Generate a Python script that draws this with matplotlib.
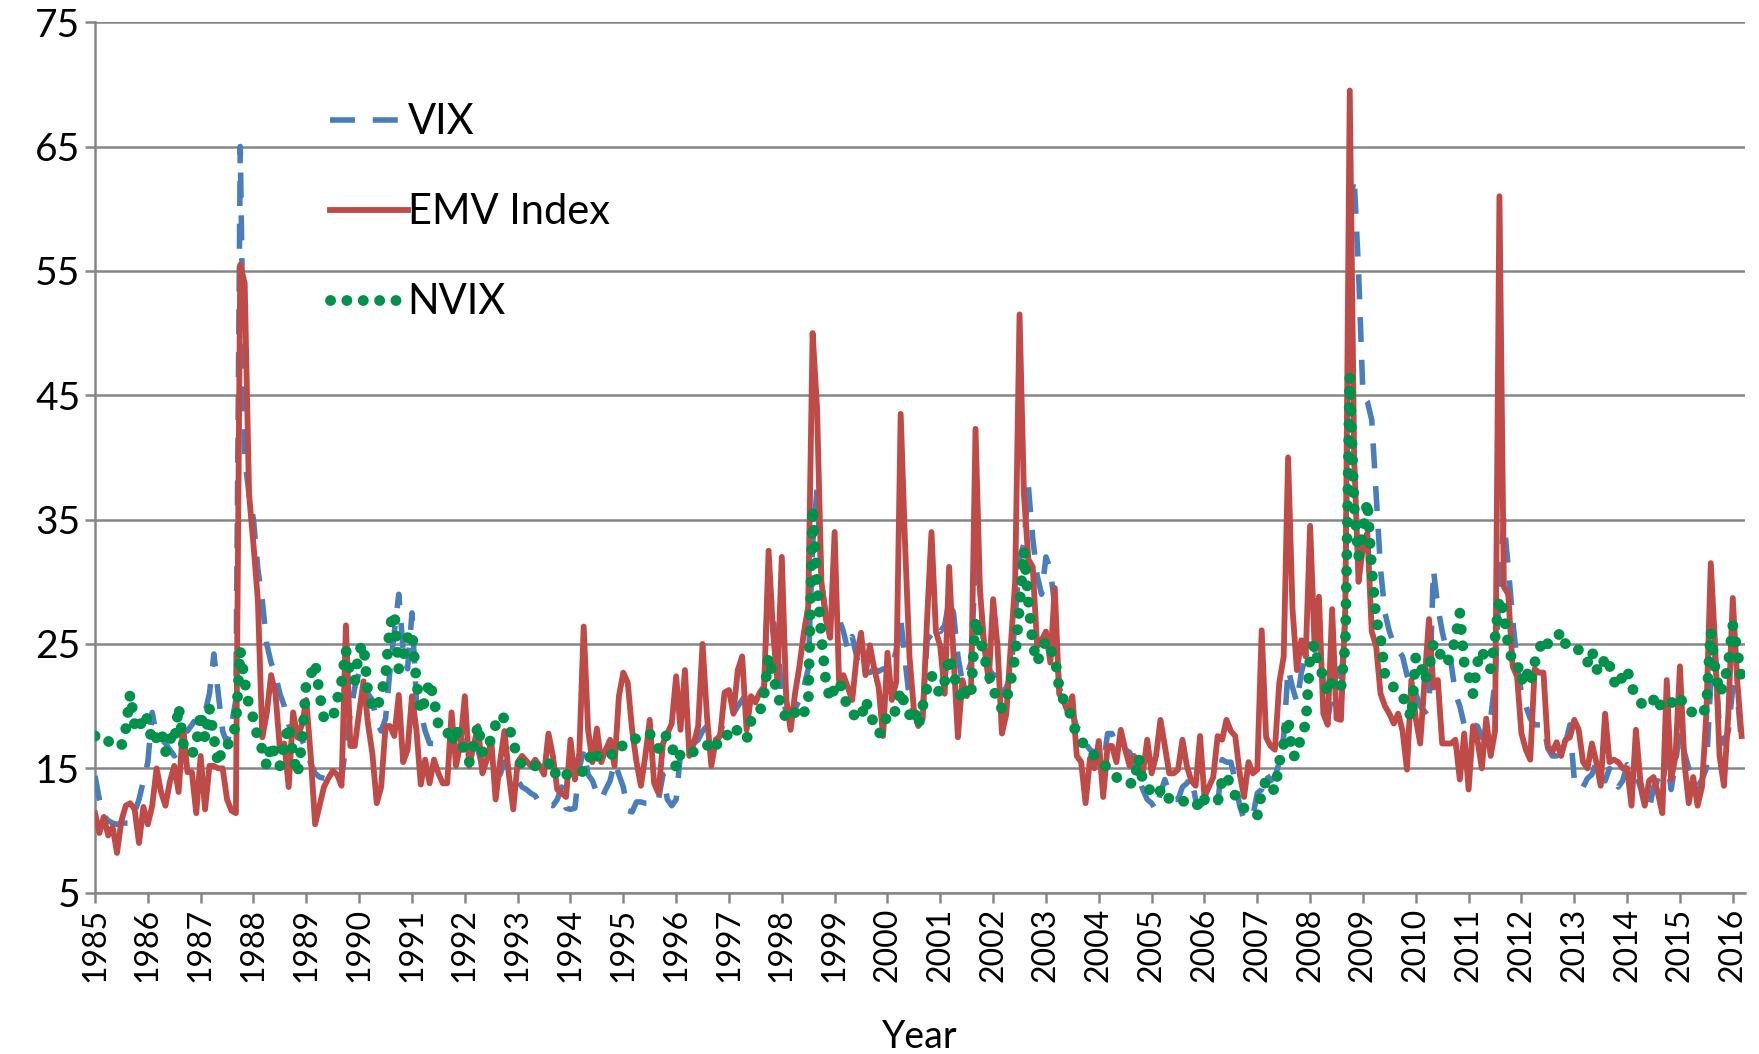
import matplotlib
matplotlib.use("Agg")
import matplotlib.pyplot as plt
import numpy as np

plt.rcParams['font.family'] = ['Lato', 'DejaVu Sans']

# monthly values, Jan 1985 .. Mar 2016 (one row per year)
vix = [
    14.4, 12.5, 11.2, 10.8, 10.6, 10.5, 10.6, 10.6, 10.6, 11.5, 12.5, 14.0,
    15.5, 19.5, 17.5, 17.5, 17.0, 16.5, 16.0, 16.3, 18.0, 18.0, 18.5, 19.0,
    19.5, 19.5, 21.0, 24.2, 21.0, 18.0, 17.0, 18.5, 20.5, 65.0, 40.0, 37.0,
    35.0, 31.0, 28.5, 25.0, 23.5, 22.5, 21.0, 20.0, 18.5, 18.0, 17.5, 17.3,
    16.5, 15.4, 14.6, 14.3, 14.2, 14.1, 14.5, 14.2, 14.1, 17.0, 19.4, 21.5,
    22.7, 22.0, 21.0, 20.5, 18.7, 18.0, 19.0, 22.9, 26.0, 29.0, 24.5, 23.0,
    27.5, 20.5, 19.5, 18.0, 17.0, 17.0, 17.0, 16.8, 17.0, 17.0, 17.5, 17.5,
    17.0, 16.5, 16.0, 16.5, 15.0, 14.8, 14.5, 14.1, 14.5, 15.5, 15.0, 14.0,
    14.0, 13.5, 13.3, 13.0, 12.8, 12.2, 12.0, 12.1, 12.0, 12.5, 13.5, 11.8,
    11.7, 11.8, 15.0, 16.5, 14.5, 14.0, 13.0, 12.5, 13.3, 14.0, 15.5, 14.5,
    13.5, 11.6, 11.5, 12.3, 12.3, 12.2, 12.2, 12.0, 12.5, 14.5, 12.5, 12.0,
    12.5, 16.2, 16.5, 16.3, 17.0, 17.3, 18.0, 18.4, 17.5, 16.8, 17.8, 19.0,
    19.4, 19.4, 20.0, 20.5, 21.0, 21.0, 21.3, 21.5, 21.6, 31.0, 27.0, 25.0,
    21.0, 19.5, 19.4, 19.8, 20.5, 21.5, 23.0, 33.0, 37.5, 30.0, 27.5, 27.0,
    27.0, 27.0, 26.0, 24.5, 25.6, 24.0, 22.5, 22.7, 22.7, 23.0, 22.8, 23.0,
    23.0, 23.0, 24.5, 27.0, 23.7, 20.5, 19.5, 18.5, 19.5, 25.3, 25.8, 26.5,
    26.0, 26.5, 28.5, 27.5, 24.0, 22.0, 22.5, 23.5, 32.0, 29.5, 24.0, 23.0,
    22.5, 22.5, 21.0, 21.5, 22.5, 27.0, 32.0, 33.0, 37.7, 33.5, 30.5, 29.0,
    32.0, 31.0, 28.0, 21.5, 20.5, 20.0, 19.5, 18.3, 18.0, 17.0, 16.5, 16.3,
    15.5, 15.2, 17.8, 17.8, 16.8, 16.5, 16.5, 16.3, 15.3, 14.3, 13.3, 12.5,
    12.2, 11.6, 13.0, 14.1, 13.0, 12.5, 12.5, 13.5, 13.8, 14.3, 12.5, 12.0,
    12.3, 11.6, 11.8, 12.0, 15.7, 15.5, 15.5, 14.0, 12.0, 10.9, 11.0, 11.2,
    13.0, 13.3, 14.6, 14.0, 14.3, 15.5, 17.6, 23.0, 21.5, 20.3, 22.7, 24.0,
    25.0, 24.5, 25.0, 22.0, 19.0, 21.0, 23.0, 21.5, 27.0, 60.0, 62.5, 55.0,
    45.0, 44.5, 43.0, 37.0, 31.0, 27.5, 26.0, 25.0, 24.5, 24.0, 22.5, 21.5,
    21.0, 20.0, 19.5, 19.8, 31.0, 28.0, 26.0, 24.5, 23.5, 21.0, 20.0, 18.5,
    19.0, 18.5, 18.4, 17.5, 17.5, 19.0, 22.0, 30.0, 35.0, 31.2, 27.0, 23.5,
    21.0, 20.0, 19.0, 18.5, 18.5, 18.5, 16.6, 16.0, 16.0, 16.5, 17.0, 18.5,
    14.1, 13.3, 13.5, 14.2, 14.5, 15.5, 14.0, 14.0, 15.0, 14.5, 13.5, 14.0,
    15.3, 15.0, 14.5, 13.5, 12.0, 11.6, 13.5, 14.0, 13.5, 16.0, 13.3, 15.5,
    18.0, 16.3, 15.0, 14.0, 13.5, 14.1, 15.0, 22.0, 24.0, 18.0, 17.0, 18.0,
    21.5, 21.0, 17.0,
]

emv = [
    11.4, 9.8, 11.1, 9.6, 10.3, 8.2, 10.8, 12.0, 12.2, 11.7, 9.0, 11.9,
    10.5, 12.0, 15.0, 13.1, 12.0, 13.9, 15.2, 13.1, 18.4, 14.7, 14.7, 11.4,
    16.0, 11.7, 15.2, 15.2, 15.0, 15.0, 12.5, 11.6, 11.4, 55.5, 54.0, 37.0,
    33.0, 28.5, 17.5, 19.4, 22.5, 21.0, 16.5, 17.0, 13.5, 19.5, 17.5, 18.5,
    20.5, 16.0, 10.5, 12.0, 13.5, 14.2, 14.8, 14.5, 13.6, 26.5, 16.8, 16.8,
    19.5, 22.0, 18.6, 16.2, 12.2, 13.5, 18.4, 18.4, 17.6, 20.9, 15.5, 16.5,
    20.8, 18.1, 13.7, 15.7, 13.8, 15.7, 14.6, 13.8, 13.8, 19.5, 15.2, 17.0,
    20.8, 15.2, 16.8, 18.4, 14.6, 15.7, 17.3, 12.5, 15.5, 18.0, 14.5, 11.7,
    15.5, 16.0, 15.6, 15.2, 15.7, 15.2, 14.5, 17.8, 16.0, 13.3, 13.0, 12.7,
    17.3, 14.1, 16.2, 26.4, 18.1, 15.5, 18.2, 15.5, 16.5, 17.3, 15.2, 20.8,
    22.7, 21.9, 18.1, 15.5, 13.6, 16.0, 18.9, 13.8, 13.0, 17.0, 17.8, 18.6,
    22.4, 18.1, 22.9, 16.0, 17.0, 18.4, 25.0, 19.2, 15.2, 17.3, 17.6, 21.1,
    21.3, 19.4, 22.9, 24.0, 18.1, 20.8, 20.3, 21.1, 21.6, 32.5, 26.0, 22.0,
    32.0, 20.6, 18.1, 21.0, 23.2, 25.9, 28.0, 50.0, 44.0, 30.0, 27.0, 25.5,
    34.0, 22.0, 22.5, 21.5, 20.5, 24.0, 25.9, 22.5, 24.9, 23.0, 21.5, 17.6,
    24.3, 20.5, 22.0, 43.5, 33.0, 24.0, 19.7, 18.4, 19.0, 27.0, 34.0, 26.0,
    24.8, 21.0, 31.2, 24.0, 17.5, 22.1, 20.8, 21.5, 42.3, 29.4, 24.8, 22.0,
    28.6, 24.8, 17.8, 19.4, 24.8, 30.0, 51.5, 37.0, 31.8, 31.2, 24.8, 25.3,
    26.0, 23.5, 29.5, 21.0, 20.4, 19.5, 20.8, 16.0, 15.5, 12.2, 15.8, 15.0,
    17.2, 12.7, 16.8, 16.8, 15.5, 18.1, 16.5, 15.2, 16.0, 15.5, 14.6, 17.3,
    14.6, 16.0, 18.9, 16.8, 14.6, 14.6, 14.9, 17.3, 15.2, 14.0, 13.6, 17.6,
    12.7, 13.5, 14.3, 17.6, 17.3, 18.9, 18.0, 17.6, 14.6, 12.7, 15.5, 14.6,
    14.9, 26.1, 17.5, 16.8, 16.5, 21.9, 24.0, 40.0, 27.8, 22.9, 25.3, 24.0,
    34.5, 25.0, 28.8, 19.4, 18.5, 27.8, 19.0, 18.9, 28.0, 69.5, 40.0, 30.0,
    32.8, 33.9, 26.0, 24.8, 21.0, 20.0, 19.4, 18.6, 19.4, 18.0, 14.9, 22.1,
    19.0, 17.0, 22.1, 27.0, 21.5, 22.1, 17.0, 17.0, 17.0, 17.3, 14.1, 17.8,
    13.3, 18.4, 17.3, 15.0, 19.0, 16.0, 18.0, 61.0, 29.6, 29.0, 23.2, 22.4,
    17.8, 16.5, 15.7, 23.0, 22.7, 22.7, 16.8, 16.3, 17.1, 16.0, 17.3, 17.5,
    18.9, 18.1, 15.5, 15.0, 17.0, 15.5, 13.6, 19.4, 15.5, 15.7, 15.5, 15.0,
    15.0, 12.0, 18.1, 14.0, 12.0, 14.0, 14.3, 13.0, 11.4, 22.1, 14.1, 16.0,
    23.2, 15.5, 12.2, 14.3, 12.0, 13.5, 19.4, 31.5, 24.8, 16.0, 13.6, 19.4,
    28.7, 22.1, 17.6,
]

nvix = [
    17.6, 17.7, 17.6, 17.2, 16.8, 16.8, 16.8, 18.2, 21.0, 18.5, 18.0, 19.4,
    18.9, 17.0, 17.5, 18.1, 16.3, 17.5, 17.0, 20.0, 17.0, 16.5, 16.1, 16.9,
    19.5, 17.4, 19.8, 17.5, 15.3, 16.8, 16.8, 17.4, 18.5, 24.5, 22.0, 20.0,
    19.0, 17.4, 16.5, 15.2, 17.0, 16.0, 15.2, 17.0, 18.5, 16.0, 14.5, 17.0,
    22.0, 22.5, 23.5, 21.0, 19.0, 19.0, 19.0, 20.5, 22.0, 24.5, 22.5, 22.0,
    24.5, 25.0, 21.0, 20.0, 19.7, 21.0, 22.5, 26.5, 27.5, 23.0, 24.0, 25.5,
    26.0, 22.0, 19.5, 20.5, 22.0, 20.5, 18.5, 18.0, 18.0, 17.0, 18.3, 17.0,
    16.5, 15.5, 16.8, 18.5, 16.3, 16.3, 17.5, 18.5, 19.3, 19.0, 18.5, 17.0,
    16.0, 15.2, 15.3, 15.2, 15.2, 15.2, 15.5, 15.5, 14.4, 14.8, 15.0, 14.5,
    14.5, 14.5, 14.6, 14.8, 15.5, 16.5, 16.0, 15.8, 16.0, 16.2, 16.0, 16.2,
    17.0, 17.0, 17.3, 17.4, 17.5, 17.6, 17.8, 17.0, 16.6, 17.6, 17.6, 17.0,
    15.0, 16.2, 16.5, 16.5, 16.3, 16.4, 16.5, 16.8, 17.3, 16.8, 17.3, 17.8,
    17.6, 18.3, 18.0, 17.5, 17.3, 18.8, 19.1, 19.5, 21.0, 24.0, 22.5, 21.0,
    19.8, 19.0, 18.9, 19.5, 20.0, 19.5, 20.0, 36.0, 30.0, 25.5, 22.0, 20.5,
    21.5, 22.0, 21.0, 19.8, 19.5, 19.0, 19.0, 20.5, 19.5, 18.5, 17.8, 18.0,
    19.5, 19.3, 19.7, 21.3, 20.0, 19.3, 19.9, 18.4, 20.0, 21.5, 22.5, 21.5,
    21.0, 22.0, 24.0, 22.5, 21.5, 20.4, 21.5, 21.0, 27.0, 25.5, 24.0, 22.5,
    21.5, 20.3, 19.8, 20.5, 22.0, 24.0, 28.0, 32.5, 28.5, 25.0, 23.5, 24.5,
    25.3, 24.5, 24.0, 21.5, 20.5, 20.1, 18.6, 17.8, 17.2, 16.8, 16.5, 16.0,
    15.8, 15.3, 15.1, 14.7, 14.3, 13.9, 13.8, 13.8, 13.8, 15.9, 14.0, 13.8,
    12.8, 12.9, 13.2, 13.4, 12.5, 12.3, 12.3, 12.3, 12.5, 12.5, 12.3, 11.7,
    12.5, 12.5, 12.3, 12.3, 14.0, 14.5, 13.5, 12.8, 12.0, 11.8, 11.7, 11.5,
    11.2, 13.0, 14.1, 13.5, 13.2, 15.5, 17.0, 19.0, 16.0, 16.0, 17.8, 18.5,
    24.0, 25.0, 23.0, 22.5, 21.0, 22.0, 22.0, 21.5, 25.0, 46.5, 36.0, 32.0,
    34.0, 36.5, 31.0, 27.0, 25.5, 22.5, 22.0, 21.5, 21.0, 20.8, 20.0, 19.0,
    24.0, 23.5, 22.0, 23.0, 25.0, 25.0, 23.5, 23.5, 24.0, 25.5, 27.5, 23.5,
    22.5, 21.0, 23.5, 24.5, 23.5, 23.0, 25.5, 28.7, 27.5, 24.9, 23.5, 23.5,
    22.0, 23.0, 21.8, 23.5, 24.5, 25.5, 25.0, 25.0, 25.5, 26.0, 25.0, 25.0,
    25.0, 24.5, 24.0, 23.5, 24.5, 23.0, 22.7, 24.0, 23.3, 22.0, 21.5, 22.5,
    23.0, 21.5, 21.0, 20.3, 20.0, 20.5, 20.5, 19.7, 20.5, 20.3, 20.2, 20.8,
    20.8, 19.9, 19.8, 19.4, 19.4, 19.3, 20.0, 26.0, 23.0, 21.0, 21.8, 23.5,
    26.5, 24.5, 22.2,
]

years = list(range(1985, 2017))

t_vix = 1985 + np.arange(len(vix)) / 12
t_emv = 1985 + np.arange(len(emv)) / 12
t_nvix = 1985 + np.arange(len(nvix)) / 12

fig = plt.figure(figsize=(17.59, 10.54), dpi=100)
ax = fig.add_axes([0.054, 0.153, 0.938, 0.826])

ax.plot(t_vix, vix, color='#4A7EBB', lw=4.0, linestyle=(0, (4.5, 3.2)),
        label='VIX', zorder=3)
ax.plot(t_emv, emv, color='#BE4B48', lw=4.2, label='EMV Index', zorder=4,
        solid_joinstyle='round')
ax.plot(t_nvix, nvix, color='#00924A', lw=7.8, linestyle=(0, (0.01, 1.5)),
        dash_capstyle='round', label='NVIX', zorder=5)

ax.set_xlim(1985, 2016.23)
ax.set_ylim(5, 75)
ax.set_yticks(range(5, 80, 10))
ax.set_xticks(years)
ax.set_xticklabels([str(y) for y in years], rotation=90, fontsize=23)
ax.tick_params(axis='y', labelsize=28, length=7, width=1.8, color='#868686')
ax.tick_params(axis='x', length=7, width=1.8, color='#868686', pad=4)
ax.grid(axis='y', color='#868686', lw=1.8)
ax.set_axisbelow(True)

for side in ['top', 'right']:
    ax.spines[side].set_visible(False)
for side in ['left', 'bottom']:
    ax.spines[side].set_color('#868686')
    ax.spines[side].set_linewidth(1.8)

ax.set_xlabel('Year', fontsize=27, labelpad=26)

ax.legend(loc='upper left', bbox_to_anchor=(0.12, 0.95), frameon=False,
          fontsize=30, handlelength=1.85, handletextpad=0.0, labelspacing=1.25)

fig.savefig('out.png', dpi=100)
